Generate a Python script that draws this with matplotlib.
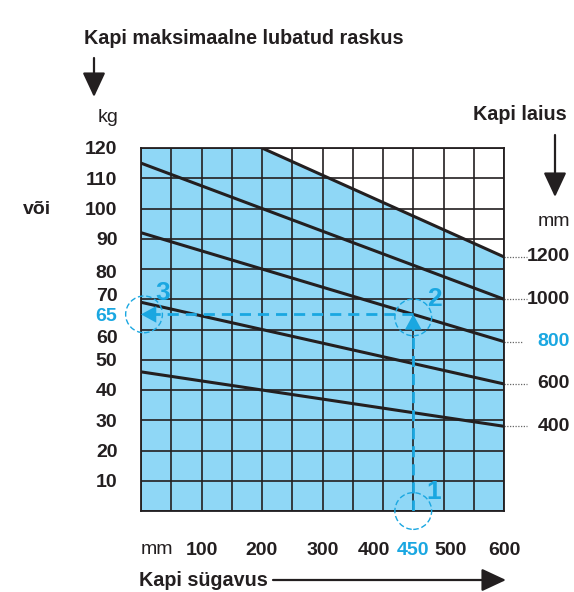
import matplotlib
matplotlib.use('Agg')
import matplotlib.pyplot as plt
import matplotlib.transforms as mtransforms
import numpy as np

plt.rcParams['font.family'] = ['Liberation Sans', 'DejaVu Sans']

# kapi sügavus (mm) punktid ja max lubatud raskus (kg) iga laiuse jaoks
depth = [0, 200, 600]
widths = ['400', '600', '800', '1000', '1200']
load_400 = [46, 40, 28]
load_600 = [69, 60, 42]
load_800 = [92, 80, 56]
load_1000 = [115, 100, 70]
depth_1200 = [200, 600]
load_1200 = [120, 84]

kg_ticks = [0, 10, 20, 30, 40, 50, 60, 70, 80, 90, 100, 110, 120]
mm_ticks = [0, 50, 100, 150, 200, 250, 300, 350, 400, 450, 500, 550, 600]
mm_labels = ['', '', '100', '', '200', '', '300', '', '400', '450', '500', '', '600']

ex_depth = 450
ex_load = 65

BLUE = '#1aa7e1'
FILL = '#8fd7f6'
DARK = '#231f20'
FS = 14          # numbrid
FS_T = 14.2      # pealkirjad

W, H = 574, 592
fig = plt.figure(figsize=(W / 100, H / 100), dpi=100)
ax = fig.add_axes([141 / W, (H - 511) / H, 363 / W, 363 / H])
ax.set_xlim(0, 600)
ax.set_ylim(0, 120)

# sinine ala joone 1200 all
fill_x = [0] + depth_1200
fill_y = [kg_ticks[-1]] + load_1200
ax.fill_between(fill_x, 0, fill_y, color=FILL, zorder=0, lw=0)

ax.set_xticks(mm_ticks)
ax.set_yticks(kg_ticks)
ax.grid(True, color=DARK, lw=1.2, zorder=1)
ax.set_axisbelow(False)
for s in ax.spines.values():
    s.set_color(DARK)
    s.set_linewidth(1.3)
ax.tick_params(length=0)

# y tick labels
ylabels = ['' if v == 0 else str(v) for v in kg_ticks]
ax.set_yticklabels(ylabels, fontsize=FS, fontweight='bold', color=DARK)
ax.tick_params(axis='y', pad=17)
ax.set_yticks([ex_load], [str(ex_load)], minor=True)
ax.tick_params(axis='y', which='minor', length=0, pad=17, labelsize=FS,
               labelcolor=BLUE)
for t in ax.get_yticklabels(minor=True):
    t.set_fontweight('bold')
shift_y = {80: -3, 70: 5, 60: -7}
for v, t in zip(kg_ticks, ax.get_yticklabels()):
    if v in shift_y:
        t.set_transform(t.get_transform() + mtransforms.ScaledTranslation(0, shift_y[v] / 100, fig.dpi_scale_trans))

# x tick labels
ax.set_xticklabels(mm_labels, fontsize=FS, fontweight='bold', color=DARK)
ax.tick_params(axis='x', pad=22)
shift_x = {400: -9, 500: 7}
for v, t in zip(mm_ticks, ax.get_xticklabels()):
    if v == ex_depth:
        t.set_color(BLUE)
    if v in shift_x:
        t.set_transform(t.get_transform() + mtransforms.ScaledTranslation(shift_x[v] / 100, 0, fig.dpi_scale_trans))

# laiuse jooned
lines = [load_400, load_600, load_800, load_1000]
for ld in lines:
    ax.plot(depth, ld, color=DARK, lw=2.2, zorder=3)
ax.plot(depth_1200, load_1200, color=DARK, lw=2.2, zorder=3)

# parempoolsed laiuse sildid
ends = [l[-1] for l in lines] + [load_1200[-1]]
tr_lead = mtransforms.blended_transform_factory(ax.transAxes, ax.transData)
tr_lab = mtransforms.blended_transform_factory(fig.transFigure, ax.transData)
for w, y in zip(widths, ends):
    x_end = 1.063 if w != '800' else 1.052
    ax.plot([1.0, x_end], [y, y], transform=tr_lead, clip_on=False,
            color='#666666', lw=0.9, ls=(0, (1, 1.2)))
    ax.text(570 / W, y, w, transform=tr_lab, ha='right', va='center',
            fontsize=FS, fontweight='bold',
            color=BLUE if w == '800' else DARK)

# näide: 450 mm -> 65 kg
dash = (0, (4, 2.5))
ax.plot([ex_depth, ex_depth], [0, ex_load - 3], color=BLUE, lw=2, ls=dash, zorder=4)
ax.plot([ex_depth, 12], [ex_load, ex_load], color=BLUE, lw=2, ls=dash, zorder=4)
arr = dict(arrowstyle='-|>,head_length=0.55,head_width=0.3', color=BLUE, lw=0,
           mutation_scale=20, shrinkA=0, shrinkB=0)
ax.annotate('', xy=(ex_depth, ex_load), xytext=(ex_depth, ex_load - 7), arrowprops=arr, zorder=5)
ax.annotate('', xy=(0, ex_load), xytext=(35, ex_load), arrowprops=arr, zorder=5)
circles = [(ex_depth, 0), (ex_depth, ex_load - 1), (5, ex_load)]
ax.scatter([c[0] for c in circles], [c[1] for c in circles], s=700,
           facecolors='none', edgecolors=BLUE, linewidths=1.0,
           linestyles=(0, (4, 2)), clip_on=False, zorder=5)
for i, ((cx, cy), off) in enumerate(zip(circles, [(20, 19), (21, 18), (19, 21)])):
    ax.annotate(str(i + 1), xy=(cx, cy), xytext=off, textcoords='offset pixels',
                ha='center', va='center', fontsize=19, fontweight='bold',
                color=BLUE, annotation_clip=False)

# tekstid ja nooled väljaspool joonist
def fp(x, y):
    return (x / W, (H - y) / H)

fig.text(*fp(84, 38), 'Kapi maksimaalne lubatud raskus', ha='left', va='center',
         fontsize=FS_T, fontweight='bold', color=DARK)
fig.text(*fp(108, 118), 'kg', ha='center', va='center', fontsize=FS, color=DARK)
fig.text(*fp(37, 210), 'või', ha='center', va='center', fontsize=FS,
         fontweight='bold', color=DARK)
fig.text(*fp(520, 115), 'Kapi laius', ha='center', va='center', fontsize=FS_T,
         fontweight='bold', color=DARK)
fig.text(*fp(554, 221), 'mm', ha='center', va='center', fontsize=FS, color=DARK)
fig.text(*fp(157, 550), 'mm', ha='center', va='center', fontsize=FS, color=DARK)
fig.text(*fp(139, 580), 'Kapi sügavus', ha='left', va='center', fontsize=FS_T,
         fontweight='bold', color=DARK)

black_arr = dict(arrowstyle='-|>,head_length=0.75,head_width=0.35', color=DARK,
                 lw=1.6, mutation_scale=20, shrinkA=0, shrinkB=0)
ax.annotate('', xy=fp(94, 97), xytext=fp(94, 58), xycoords='figure fraction',
            textcoords='figure fraction', arrowprops=black_arr, annotation_clip=False)
ax.annotate('', xy=fp(555, 197), xytext=fp(555, 135), xycoords='figure fraction',
            textcoords='figure fraction', arrowprops=black_arr, annotation_clip=False)
ax.annotate('', xy=fp(506, 580), xytext=fp(273, 580), xycoords='figure fraction',
            textcoords='figure fraction', arrowprops=black_arr, annotation_clip=False)

fig.savefig('out.png', dpi=100)
